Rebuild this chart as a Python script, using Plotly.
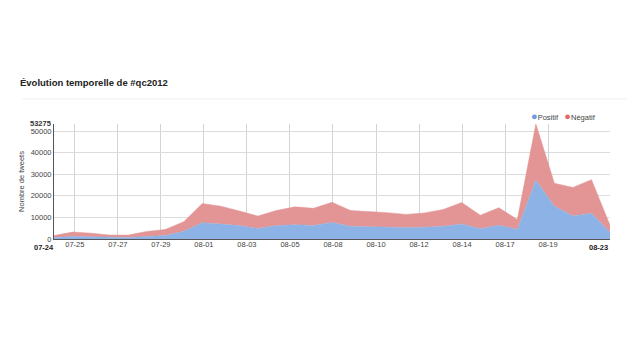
import plotly.graph_objects as go

dates = ["2012-07-%02d" % d for d in range(24, 32)] + ["2012-08-%02d" % d for d in range(1, 24)]
positif = [700, 1200, 1000, 700, 700, 1200, 1600, 3600, 7500, 6900, 6200, 4900, 6200, 6600, 6300, 7700,
           5900, 5700, 5500, 5300, 5500, 5900, 7000, 4800, 6400, 4400, 27300, 15200, 10700, 11900, 3100]
negatif = [900, 2000, 1700, 1100, 1100, 2300, 2800, 4400, 8900, 8300, 6800, 5700, 7000, 8300, 7900, 9300,
           7300, 7100, 6700, 6100, 6600, 7800, 9900, 6200, 8100, 4600, 25975, 10600, 13200, 15600, 3300]
tick_vals = ["2012-07-25 03:00", "2012-07-27 10:43", "2012-07-29 18:25", "2012-08-01 02:08",
             "2012-08-03 09:51", "2012-08-05 17:34", "2012-08-08 01:17", "2012-08-10 09:00",
             "2012-08-12 16:42", "2012-08-15 00:26", "2012-08-17 08:08", "2012-08-19 15:51"]
tick_text = ["07-25", "07-27", "07-29", "08-01", "08-03", "08-05", "08-08", "08-10",
             "08-12", "08-14", "08-17", "08-19"]
y_ticks = [0, 10000, 20000, 30000, 40000, 50000]
title = "Évolution temporelle de #qc2012"
font = "Liberation Sans, Arial, sans-serif"

total = [p + n for p, n in zip(positif, negatif)]
ymax = max(total)

fig = go.Figure()
fig.add_trace(go.Scatter(x=dates, y=positif, name="Positif", stackgroup="one",
                         line=dict(width=0.5, color="#8db2e6"), fillcolor="#8db2e6",
                         showlegend=False, hoverinfo="x+y"))
fig.add_trace(go.Scatter(x=dates, y=negatif, name="Négatif", stackgroup="one",
                         line=dict(width=0.5, color="#e39494"), fillcolor="#e39494",
                         showlegend=False, hoverinfo="x+y"))

fig.update_layout(
    width=627, height=349,
    margin=dict(l=42, r=25, t=116, b=118),
    paper_bgcolor="white", plot_bgcolor="white",
    font=dict(family=font, size=8, color="#444"),
    xaxis=dict(range=[dates[0], dates[-1]], tickvals=tick_vals, ticktext=tick_text,
               showgrid=True, gridcolor="#d4d4d4", gridwidth=1,
               showline=True, linecolor="#555", linewidth=1,
               ticks="", ticklabelstandoff=-2, tickfont=dict(size=7.5, color="#444"), zeroline=False),
    yaxis=dict(range=[0, ymax], tickvals=y_ticks, ticktext=[str(v) for v in y_ticks],
               showgrid=True, gridcolor="#dcdcdc", gridwidth=1,
               showline=True, linecolor="#555", linewidth=1,
               ticks="", tickfont=dict(size=7.5, color="#444"), zeroline=False,
               title=dict(text="Nombre de tweets", font=dict(size=7.5, color="#444"), standoff=5)),
    showlegend=False,
)

fig.add_annotation(text="<b>%d</b>" % ymax, x=0, xref="paper", xanchor="right", xshift=-1,
                   y=ymax, yref="y", yanchor="middle", yshift=1, showarrow=False,
                   font=dict(size=7.5, color="#333"))
fig.add_annotation(text="<b>07-24</b>", x=dates[0], xref="x", xanchor="right", xshift=2,
                   y=0, yref="paper", yanchor="top", yshift=-2, showarrow=False,
                   font=dict(size=7.5, color="#222"))
fig.add_annotation(text="<b>08-23</b>", x=dates[-1], xref="x", xanchor="right",
                   y=0, yref="paper", yanchor="top", yshift=-2, showarrow=False,
                   font=dict(size=7.5, color="#222"))
fig.add_annotation(text="<b>" + title + "</b>", x=-0.064, xref="paper", xanchor="left",
                   y=1.357, yref="paper", yanchor="middle", showarrow=False,
                   font=dict(size=9.5, color="#222"))
fig.add_annotation(text='<span style="color:#6d9be0;font-size:11px">●</span>Positif   '
                        '<span style="color:#e06b6b;font-size:11px">●</span>Négatif',
                   x=0.979, xref="paper", xanchor="right",
                   y=1.07, yref="paper", yanchor="middle", showarrow=False,
                   font=dict(size=7.5, color="#444"))
fig.add_shape(type="line", xref="paper", yref="paper", x0=-0.057, x1=1.045, y0=1.217, y1=1.217,
              line=dict(color="#eeeeee", width=1))

fig.write_html("out.html")
